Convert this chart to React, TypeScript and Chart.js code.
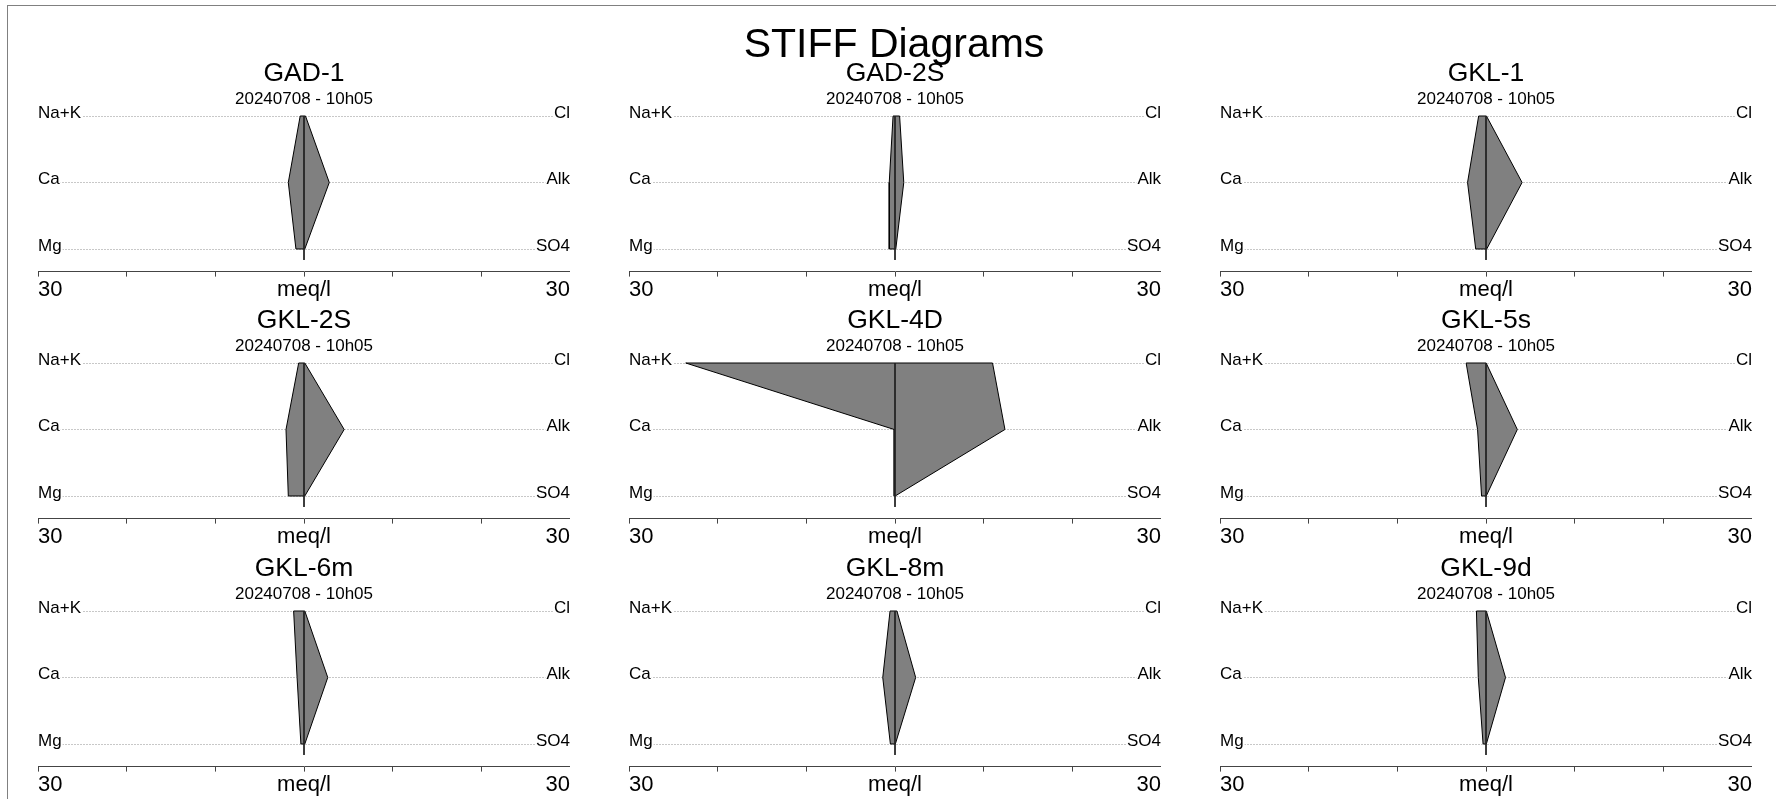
import React, { useEffect, useRef } from 'react';
import { Chart, registerables } from 'chart.js';

Chart.register(...registerables);

const FONT = "'Liberation Sans', Arial, Helvetica, sans-serif";

// ---- data (meq/l) ----
const wells = ['GAD-1', 'GAD-2S', 'GKL-1', 'GKL-2S', 'GKL-4D', 'GKL-5s', 'GKL-6m', 'GKL-8m', 'GKL-9d'];
const sampleDate = '20240708 - 10h05';
const naK = [0.43, 0.22, 0.83, 0.6, 23.6, 2.24, 1.17, 0.56, 1.08];
const ca = [1.77, 0.65, 2.08, 2.03, 0.09, 0.95, 0.78, 1.38, 0.87];
const mg = [0.91, 0.65, 1.16, 1.77, 0.09, 0.5, 0.35, 0.52, 0.33];
const cl = [0.17, 0.52, 0.05, 0.09, 11.0, 0.02, 0.09, 0.22, 0.04];
const alk = [2.85, 0.99, 4.07, 4.53, 12.4, 3.53, 2.68, 2.33, 2.2];
const so4 = [0.09, 0.09, 0.08, 0.09, 0.02, 0.03, 0.09, 0.04, 0.04];

// ---- axis / label definitions ----
const cationLabels = ['Na+K', 'Ca', 'Mg'];
const anionLabels = ['Cl', 'Alk', 'SO4'];
const ionLevels = [2, 1, 0];
const xMin = -30;
const xMax = 30;
const xStep = 10;
const unitLabel = 'meq/l';
const mainTitle = 'STIFF Diagrams';

const stiffLabels = {
  id: 'stiffLabels',
  beforeDatasetsDraw(chart: any) {
    const { ctx, chartArea, scales } = chart;
    const { left, right } = chartArea;
    const y = scales.y;
    ctx.save();
    ctx.font = `17px ${FONT}`;
    ionLevels.forEach((lv, k) => {
      const py = Math.round(y.getPixelForValue(lv)) + 0.5;
      ctx.strokeStyle = '#c8c8c8';
      ctx.lineWidth = 1;
      ctx.setLineDash([2, 1]);
      ctx.beginPath();
      ctx.moveTo(left, py);
      ctx.lineTo(right, py);
      ctx.stroke();
      ctx.setLineDash([]);
      const lw = ctx.measureText(cationLabels[k]).width;
      const rw = ctx.measureText(anionLabels[k]).width;
      ctx.fillStyle = '#ffffff';
      ctx.fillRect(left, py - 14, lw + 1, 16);
      ctx.fillRect(right - rw - 1, py - 14, rw + 1, 16);
      ctx.fillStyle = '#000000';
      ctx.textBaseline = 'alphabetic';
      ctx.textAlign = 'left';
      ctx.fillText(cationLabels[k], left, py + 1);
      ctx.textAlign = 'right';
      ctx.fillText(anionLabels[k], right, py + 1);
    });
    ctx.restore();
  },
};

function StiffPanel({ idx, left, top }: { idx: number; left: number; top: number }) {
  const ref = useRef<HTMLCanvasElement>(null);
  useEffect(() => {
    if (!ref.current) return;
    const polygon = [
      { x: -naK[idx], y: ionLevels[0] },
      { x: -ca[idx], y: ionLevels[1] },
      { x: -mg[idx], y: ionLevels[2] },
      { x: so4[idx], y: ionLevels[2] },
      { x: alk[idx], y: ionLevels[1] },
      { x: cl[idx], y: ionLevels[0] },
      { x: -naK[idx], y: ionLevels[0] },
    ];
    const centre = [
      { x: 0, y: ionLevels[0] },
      { x: 0, y: -0.165 },
    ];
    const chart = new Chart(ref.current, {
      type: 'line',
      data: {
        datasets: [
          {
            data: centre,
            borderColor: '#222222',
            borderWidth: 1,
            pointRadius: 0,
            fill: false,
            clip: false,
            order: 0,
          } as any,
          {
            data: polygon,
            borderColor: '#000000',
            backgroundColor: '#808080',
            borderWidth: 1,
            pointRadius: 0,
            tension: 0,
            fill: 'shape',
            clip: false,
            order: 1,
          } as any,
        ],
      },
      options: {
        animation: false,
        responsive: false,
        events: [],
        layout: { padding: 0 },
        plugins: {
          legend: { display: false },
          tooltip: { enabled: false },
          title: {
            display: true,
            text: wells[idx],
            color: '#000',
            font: { family: FONT, size: 26.5, weight: 'normal' },
            padding: { top: 1.4, bottom: 0 },
          },
          subtitle: {
            display: true,
            text: sampleDate,
            color: '#000',
            font: { family: FONT, size: 17, weight: 'normal' },
            padding: { top: 0, bottom: 6.4 },
          },
        },
        scales: {
          x: {
            type: 'linear',
            min: xMin,
            max: xMax,
            ticks: {
              stepSize: xStep,
              autoSkip: false,
              maxRotation: 0,
              minRotation: 0,
              align: 'inner',
              padding: 0,
              color: '#000',
              font: { family: FONT, size: 22 },
              callback: (v: any) => {
                const n = Number(v);
                if (n === xMin || n === xMax) return String(Math.abs(n));
                if (n === 0) return unitLabel;
                return '';
              },
            },
            grid: { drawOnChartArea: false, drawTicks: true, tickLength: 5, color: '#444444' },
            border: { display: true, color: '#444444', width: 1 },
          },
          y: { type: 'linear', min: -0.34, max: 2, display: false },
        },
      } as any,
      plugins: [stiffLabels],
    });
    return () => chart.destroy();
  }, [idx]);
  return (
    <canvas
      ref={ref}
      width={532}
      height={247}
      style={{ position: 'absolute', left, top, width: 532, height: 247 }}
    />
  );
}

const colLefts = [38, 629, 1220];
const rowTops = [56, 303, 551];

export default function App() {
  return (
    <div
      style={{
        position: 'fixed',
        left: 0,
        top: 0,
        width: '100vw',
        height: '100vh',
        overflow: 'hidden',
        background: '#fff',
      }}
    >
      <div
        style={{
          position: 'absolute',
          left: 7,
          top: 5,
          width: 1900,
          height: 900,
          border: '1px solid #808080',
        }}
      />
      {wells.map((w, i) => (
        <StiffPanel key={w} idx={i} left={colLefts[i % 3]} top={rowTops[Math.floor(i / 3)]} />
      ))}
      <div
        style={{
          position: 'absolute',
          left: 594,
          width: 600,
          top: 23,
          textAlign: 'center',
          fontFamily: FONT,
          fontSize: 41,
          lineHeight: '41px',
          color: '#000',
          whiteSpace: 'nowrap',
        }}
      >
        {mainTitle}
      </div>
    </div>
  );
}
